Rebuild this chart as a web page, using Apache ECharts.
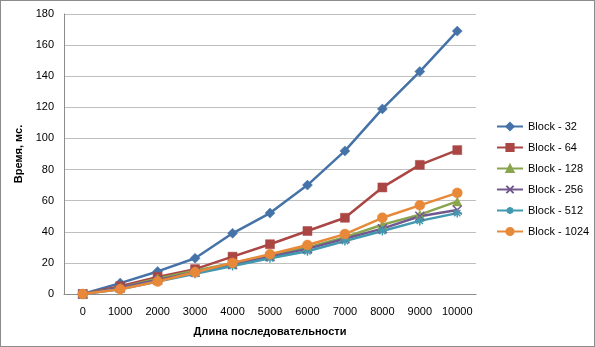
<!DOCTYPE html>
<html>
<head>
<meta charset="utf-8">
<script src="https://cdn.jsdelivr.net/npm/echarts@6/dist/echarts.min.js"></script>
<style>
  html, body { margin: 0; padding: 0; background: #fff; }
  #main { width: 593px; height: 345px; border: 1px solid #8c8c8c; }
</style>
</head>
<body>
<div id="main"></div>
<script>
var categories = ['0', '1000', '2000', '3000', '4000', '5000', '6000', '7000', '8000', '9000', '10000'];
var block32 = [0, 7, 14.5, 23, 39, 52, 70, 92, 119, 143, 169];
var block64 = [0, 5, 11, 16, 24, 32, 40.5, 49, 68.5, 83, 92.5];
var block128 = [0, 4, 10, 15, 20, 25, 30, 36.5, 44.5, 51, 59.5];
var block256 = [0, 4, 9, 14, 19, 24, 29, 35.5, 42, 50, 54];
var block512 = [0, 3, 8, 13, 18, 23, 27.5, 34, 40.5, 47, 52];
var block1024 = [0, 3, 8, 14, 20, 25.5, 31.5, 38.5, 49, 57, 65];
var yTicks = { min: 0, max: 180, interval: 20 };

var crossPath = 'path://M0,0 L10,10 M10,0 L0,10';
var starPath = 'path://M5,0 L5,10 M0,5 L10,5 M1.5,1.5 L8.5,8.5 M8.5,1.5 L1.5,8.5';

function line(name, data, color, symbol, size, hollow) {
  return {
    name: name,
    type: 'line',
    data: data,
    symbol: symbol,
    symbolSize: size,
    showAllSymbol: true,
    lineStyle: { color: color, width: 2.5 },
    itemStyle: hollow
      ? { color: color, borderColor: color, borderWidth: 1.5 }
      : { color: color, borderColor: color, borderWidth: 0.5 },
    emphasis: { disabled: true },
    animation: false
  };
}

var chart = echarts.init(document.getElementById('main'), null, { renderer: 'canvas' });
var font = 'Liberation Sans, Arial, sans-serif';

var option = {
  animation: false,
  textStyle: { fontFamily: font },
  grid: { left: 63, top: 13, width: 412, height: 280 },
  legend: {
    orient: 'vertical',
    left: 490,
    top: 115,
    itemWidth: 26,
    itemHeight: 9,
    itemGap: 10,
    textStyle: { fontSize: 11, color: '#000', fontFamily: font },
    data: ['Block - 32', 'Block - 64', 'Block - 128', 'Block - 256', 'Block - 512', 'Block - 1024']
  },
  xAxis: {
    type: 'category',
    data: categories,
    boundaryGap: true,
    name: 'Длина последовательности',
    nameLocation: 'middle',
    nameGap: 32,
    nameTextStyle: { fontWeight: 'bold', fontSize: 11, color: '#000' },
    axisLine: { lineStyle: { color: '#8c8c8c' } },
    axisTick: { show: false },
    axisLabel: { color: '#000', fontSize: 11, margin: 12, interval: 0 }
  },
  yAxis: {
    type: 'value',
    min: yTicks.min,
    max: yTicks.max,
    interval: yTicks.interval,
    name: 'Время, мс.',
    nameLocation: 'middle',
    nameGap: 36,
    nameTextStyle: { fontWeight: 'bold', fontSize: 11, color: '#000' },
    axisLine: { show: true, lineStyle: { color: '#8c8c8c' } },
    axisTick: { show: false },
    axisLabel: { color: '#000', fontSize: 11, margin: 10 },
    splitLine: { lineStyle: { color: '#bfbfbf', width: 1 } }
  },
  series: [
    line('Block - 32', block32, '#4572A7', 'diamond', 10),
    line('Block - 64', block64, '#AA4643', 'rect', 9),
    line('Block - 128', block128, '#89A54E', 'triangle', 9),
    line('Block - 256', block256, '#71588F', crossPath, 9, true),
    line('Block - 512', block512, '#4198AF', starPath, 9, true),
    line('Block - 1024', block1024, '#E8893A', 'circle', 10)
  ]
};
chart.setOption(option);
</script>
</body>
</html>
